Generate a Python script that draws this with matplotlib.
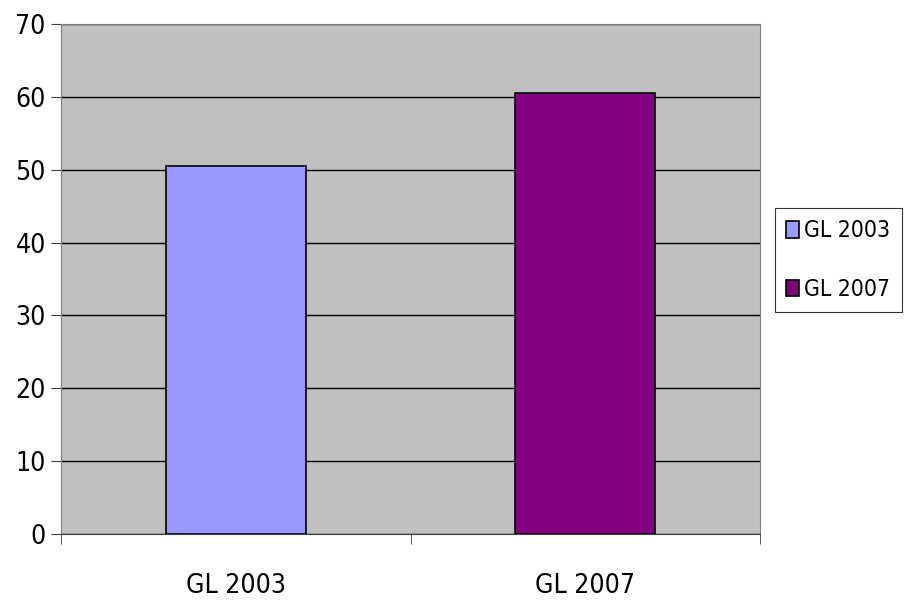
import matplotlib.pyplot as plt
import matplotlib as mpl
from matplotlib.patches import Patch

plt.rcParams['font.family'] = ['DejaVu Sans']
plt.rcParams['font.stretch'] = 'condensed'
plt.rcParams['font.size'] = 19

categories = ['GL 2003', 'GL 2007']
values = [50.5, 60.6]
colors = ['#9999FF', '#800080']
yticks = [0, 10, 20, 30, 40, 50, 60, 70]

fig = plt.figure(figsize=(9.05, 6.01), dpi=100)
ax = fig.add_axes([0.0674, 0.1115, 0.7724, 0.8485])
ax.set_facecolor('#C0C0C0')

x = range(len(categories))
ax.bar(x, values, width=0.4, color=colors, edgecolor='black', linewidth=1.2, zorder=3)

ax.set_xlim(-0.5, 1.5)
ax.set_ylim(0, 70)
ax.set_yticks(yticks)
ax.set_xticks([0, 1])
ax.set_xticklabels(categories)
ax.set_xticks([-0.5, 0.5, 1.5], minor=True)
ax.tick_params(axis='x', which='major', length=0, pad=28)
ax.tick_params(axis='x', which='minor', length=7, direction='out', color='#404040')
ax.tick_params(axis='y', length=7, direction='out', color='#404040', pad=4)
ax.yaxis.grid(True, color='black', linewidth=1, zorder=0)
ax.set_axisbelow(True)

for s in ['left', 'top', 'right']:
    ax.spines[s].set_color('#808080')
ax.spines['bottom'].set_color('#404040')

handles = [Patch(facecolor=c, edgecolor='black', linewidth=1.2) for c in colors]
leg = fig.legend(handles, categories, loc='upper left', bbox_to_anchor=(0.856, 0.654),
                 frameon=True, fancybox=False, edgecolor='black', handlelength=0.55,
                 handleheight=0.75, handletextpad=0.25, labelspacing=1.55,
                 borderpad=0.5, borderaxespad=0, fontsize=16.5)
leg.get_frame().set_linewidth(0.8)

fig.savefig('out.png', dpi=100)
